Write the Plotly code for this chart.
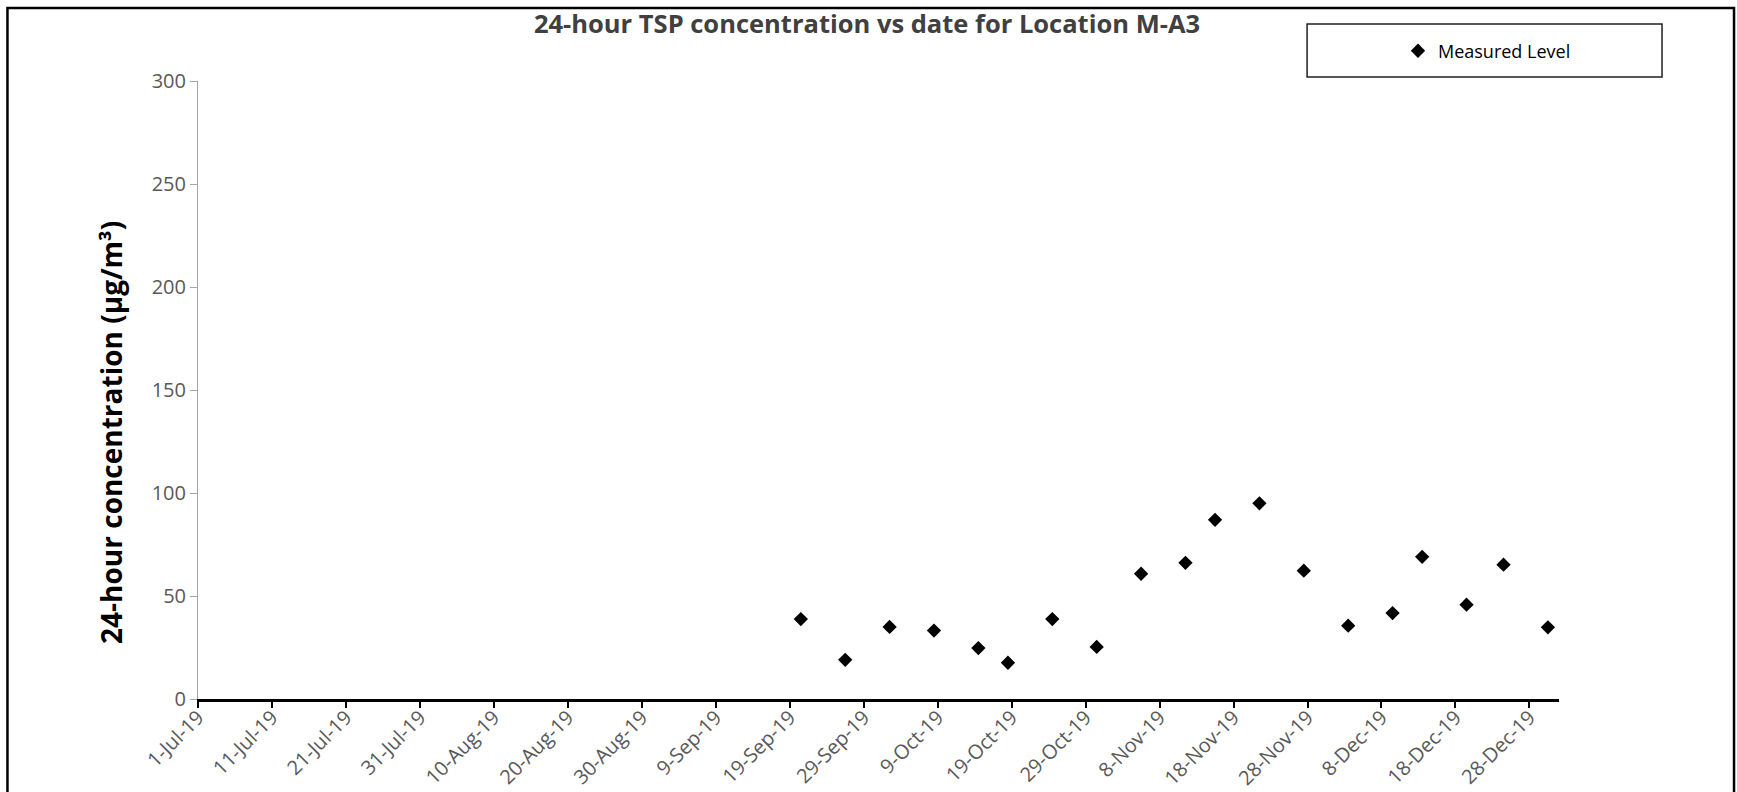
import plotly.graph_objects as go
import pandas as pd

# ---- data ----
sample_dates = ["2019-09-20", "2019-09-26", "2019-10-02", "2019-10-08", "2019-10-14",
                "2019-10-18", "2019-10-24", "2019-10-30", "2019-11-05", "2019-11-11",
                "2019-11-15", "2019-11-21", "2019-11-27", "2019-12-03", "2019-12-09",
                "2019-12-13", "2019-12-19", "2019-12-24", "2019-12-30"]
measured_level = [38.8, 19.0, 35.0, 33.2, 24.7, 17.6, 38.8, 25.3, 60.8, 66.1,
                  87.0, 95.0, 62.3, 35.6, 41.7, 69.0, 45.8, 65.2, 34.8]

tick_dates = ["2019-07-01", "2019-07-11", "2019-07-21", "2019-07-31", "2019-08-10",
              "2019-08-20", "2019-08-30", "2019-09-09", "2019-09-19", "2019-09-29",
              "2019-10-09", "2019-10-19", "2019-10-29", "2019-11-08", "2019-11-18",
              "2019-11-28", "2019-12-08", "2019-12-18", "2019-12-28"]
tick_labels = ["1-Jul-19", "11-Jul-19", "21-Jul-19", "31-Jul-19", "10-Aug-19",
               "20-Aug-19", "30-Aug-19", "9-Sep-19", "19-Sep-19", "29-Sep-19",
               "9-Oct-19", "19-Oct-19", "29-Oct-19", "8-Nov-19", "18-Nov-19",
               "28-Nov-19", "8-Dec-19", "18-Dec-19", "28-Dec-19"]
y_ticks = [0, 50, 100, 150, 200, 250, 300]

FONT = "Open Sans"
W, H = 1737, 792

# Excel date-axis line charts place each point in the middle of its day
x_vals = pd.to_datetime(sample_dates) + pd.Timedelta(hours=12)

fig = go.Figure()
fig.add_trace(go.Scatter(
    x=x_vals, y=measured_level, mode="markers", name="Measured Level",
    marker=dict(symbol="diamond", size=11, color="black"),
))

fig.update_layout(
    width=W, height=H,
    margin=dict(l=198, r=178, t=81, b=93),
    paper_bgcolor="white", plot_bgcolor="white",
    font=dict(family=FONT, color="#595959", size=20),
    title=dict(text="<b>24-hour TSP concentration vs date for Location M-A3</b>",
               x=867 / W, xanchor="center", y=1 - 24.5 / H, yanchor="middle",
               font=dict(family=FONT, size=25.5, color="#404040")),
    showlegend=True,
    legend=dict(x=0.8817, y=1.0485, xanchor="left", yanchor="middle",
                bgcolor="rgba(0,0,0,0)", borderwidth=0,
                font=dict(family=FONT, size=18, color="black")),
    xaxis=dict(
        type="date", range=["2019-07-01", "2020-01-01"], automargin=False,
        tickmode="array", tickvals=tick_dates, ticktext=tick_labels,
        tickangle=-45, showgrid=False, zeroline=False,
        showline=True, linecolor="black", linewidth=2.5,
        ticks="outside", ticklen=6, tickwidth=2, tickcolor="black",
        ticklabelstandoff=-10,
        tickfont=dict(family=FONT, size=20, color="#595959"),
    ),
    yaxis=dict(
        range=[0, 300], tickmode="array", tickvals=y_ticks, automargin=False,
        showgrid=False, zeroline=False,
        showline=True, linecolor="#a6a6a6", linewidth=1,
        ticks="outside", ticklen=7, tickwidth=1, tickcolor="#a6a6a6",
        tickfont=dict(family=FONT, size=20, color="#595959"),
    ),
)

fig.add_annotation(
    text="<b>24-hour concentration (µg/m³)</b>", textangle=-90,
    xref="paper", yref="paper", x=-0.064, y=0.432, showarrow=False,
    xanchor="center", yanchor="middle",
    font=dict(family=FONT, size=28, color="black"),
)

# legend frame
fig.add_shape(type="rect", xref="paper", yref="paper",
              x0=0.8149, x1=1.0757, y0=1.0065, y1=1.0922,
              line=dict(color="#202020", width=1.5), fillcolor="rgba(0,0,0,0)")
# chart-area frame
fig.add_shape(type="rect", xref="paper", yref="paper",
              x0=-0.14, x1=1.1286, y0=-0.2, y1=1.1181,
              line=dict(color="black", width=2.5), fillcolor="rgba(0,0,0,0)")

fig.write_html(
    "out.html",
    config={"displayModeBar": False},
    post_script="document.body.style.margin='0';document.body.style.overflow='hidden';",
)
